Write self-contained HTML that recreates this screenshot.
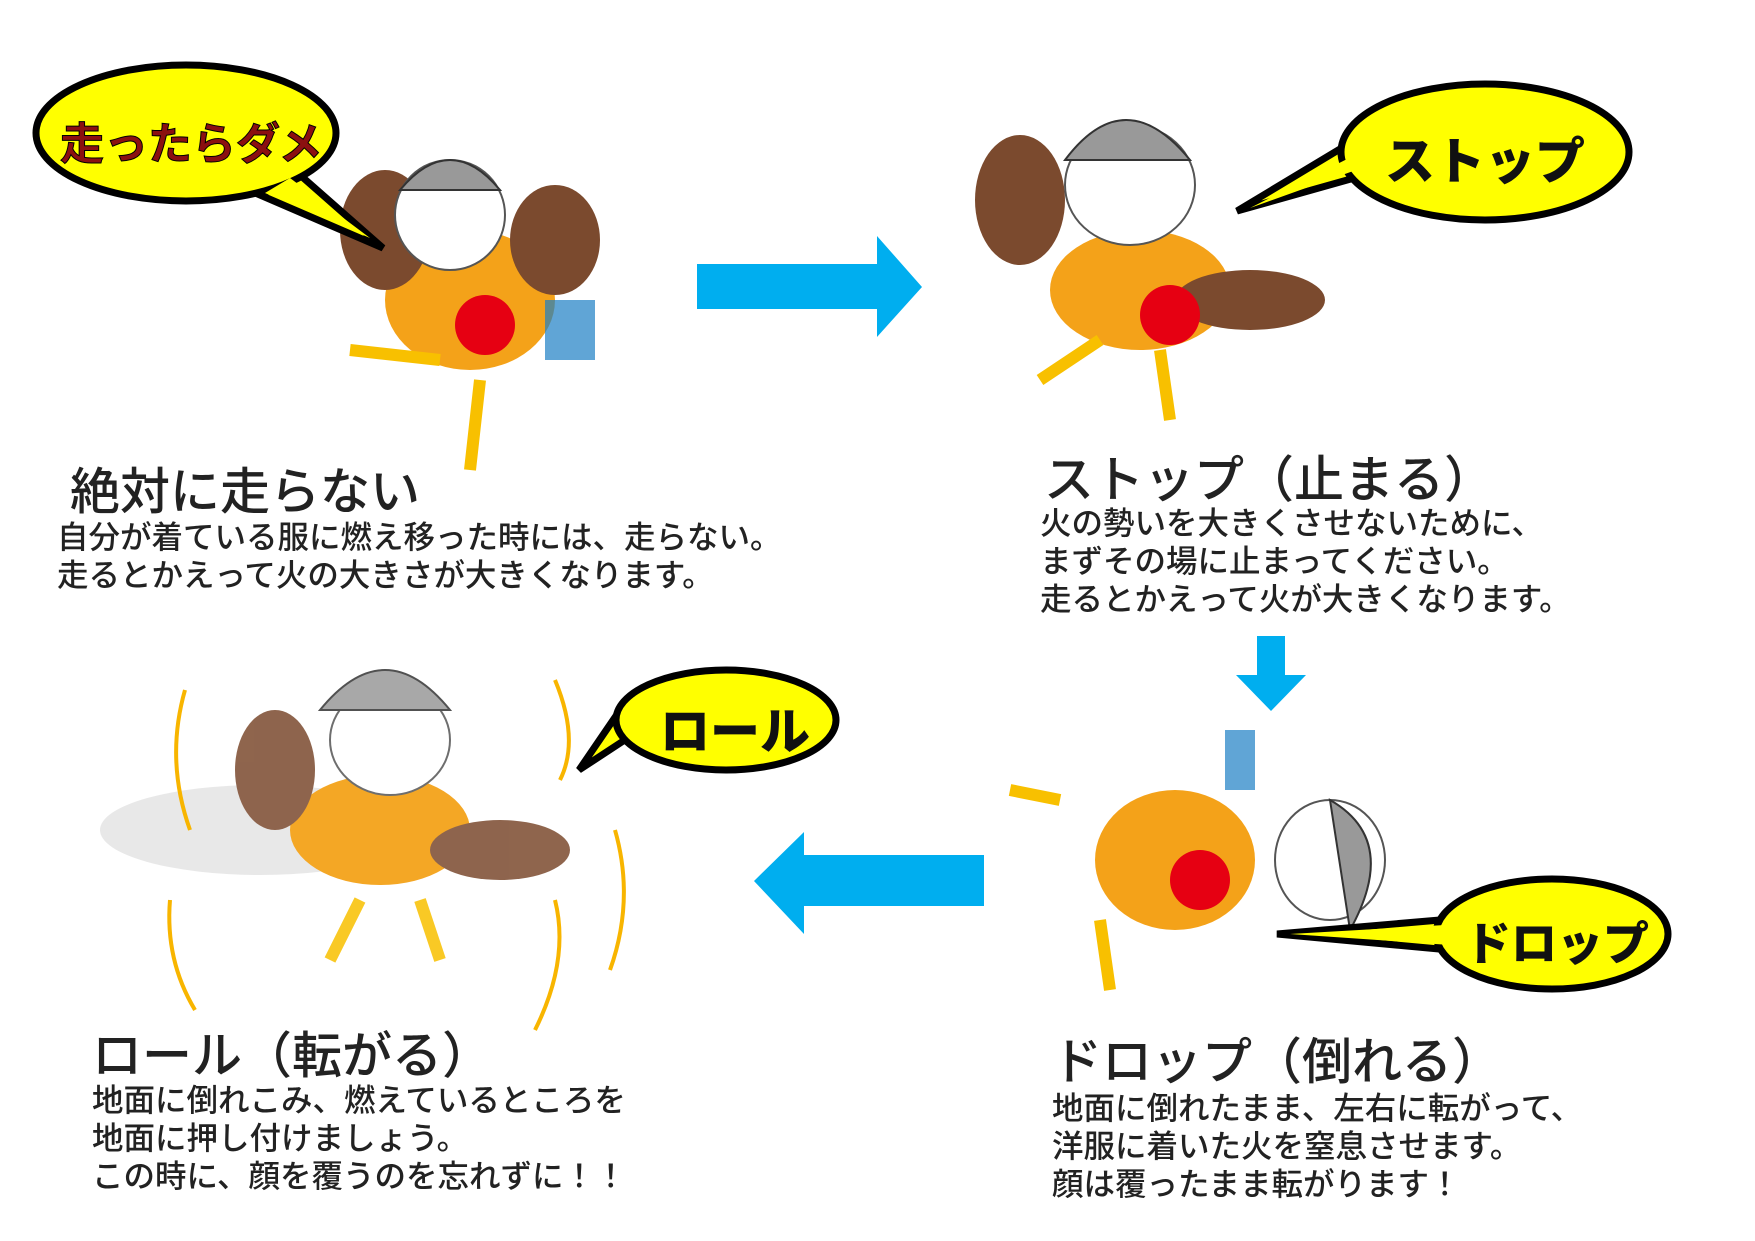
<!DOCTYPE html>
<html><head><meta charset="utf-8"><style>
body{margin:0;width:1755px;height:1241px;background:#fff;overflow:hidden;position:relative;font-family:"Liberation Sans","Noto Sans CJK JP",sans-serif;}
.t{position:absolute;color:#222;white-space:nowrap;}
.h{font-size:50px;font-weight:500;}
.b{font-size:31.5px;line-height:38px;font-weight:500;}
</style></head><body>
<svg width="1755" height="1241" style="position:absolute;left:0;top:0">
<g fill="#00aeef">
<polygon points="697,264 877,264 877,236 922,287 877,337 877,309 697,309"/>
<polygon points="1257,636 1285,636 1285,675 1306,675 1271,711 1236,675 1257,675"/>
<polygon points="984,855 804,855 804,832 754,881 804,934 804,906 984,906"/>
</g>
<g>
<ellipse cx="470" cy="300" rx="85" ry="70" fill="#f39800" opacity=".9"/>
<ellipse cx="385" cy="230" rx="45" ry="60" fill="#7b4a2e"/>
<ellipse cx="555" cy="240" rx="45" ry="55" fill="#7b4a2e"/>
<ellipse cx="450" cy="215" rx="55" ry="55" fill="#fff" stroke="#555" stroke-width="2"/>
<path d="M400 190 Q450 130 500 190 Z" fill="#999" stroke="#333" stroke-width="2"/>
<ellipse cx="485" cy="325" rx="30" ry="30" fill="#e60012"/>
<path d="M480 380 L470 470 M440 360 L350 350" stroke="#f8c000" stroke-width="12"/>
<rect x="545" y="300" width="50" height="60" fill="#1d7fc4" opacity=".7"/>
</g>
<g>
<ellipse cx="1140" cy="290" rx="90" ry="60" fill="#f39800" opacity=".9"/>
<ellipse cx="1020" cy="200" rx="45" ry="65" fill="#7b4a2e"/>
<ellipse cx="1250" cy="300" rx="75" ry="30" fill="#7b4a2e"/>
<ellipse cx="1130" cy="185" rx="65" ry="60" fill="#fff" stroke="#555" stroke-width="2"/>
<path d="M1065 160 Q1125 80 1190 160 Z" fill="#999" stroke="#333" stroke-width="2"/>
<ellipse cx="1170" cy="315" rx="30" ry="30" fill="#e60012"/>
<path d="M1100 340 L1040 380 M1160 350 L1170 420" stroke="#f8c000" stroke-width="12"/>
</g>
<g>
<ellipse cx="1175" cy="860" rx="80" ry="70" fill="#f39800" opacity=".9"/>
<ellipse cx="1330" cy="860" rx="55" ry="60" fill="#fff" stroke="#555" stroke-width="2"/>
<path d="M1330 800 Q1400 840 1350 930 Z" fill="#999" stroke="#333" stroke-width="2"/>
<ellipse cx="1200" cy="880" rx="30" ry="30" fill="#e60012"/>
<path d="M1060 800 L1010 790 M1100 920 L1110 990" stroke="#f8c000" stroke-width="12"/>
<rect x="1225" y="730" width="30" height="60" fill="#1d7fc4" opacity=".7"/>
</g>
<g opacity=".85">
<ellipse cx="260" cy="830" rx="160" ry="45" fill="#bbb" opacity=".4"/>
<ellipse cx="380" cy="830" rx="90" ry="55" fill="#f39800"/>
<ellipse cx="275" cy="770" rx="40" ry="60" fill="#7b4a2e"/>
<ellipse cx="500" cy="850" rx="70" ry="30" fill="#7b4a2e"/>
<ellipse cx="390" cy="740" rx="60" ry="55" fill="#fff" stroke="#555" stroke-width="2"/>
<path d="M320 710 Q385 630 450 710 Z" fill="#999" stroke="#333" stroke-width="2"/>
<path d="M360 900 L330 960 M420 900 L440 960" stroke="#f8c000" stroke-width="12"/>
</g>
<g fill="none" stroke="#f8b500" stroke-width="4">
<path d="M185 690 Q165 760 190 830"/><path d="M555 680 Q580 740 560 780"/>
<path d="M170 900 Q165 960 195 1010"/><path d="M615 830 Q635 900 610 970"/>
<path d="M555 900 Q570 960 535 1030"/>
</g>
<g fill="#ffff00" stroke="#000" stroke-width="7">
<path d="M300 175 L383 248 L260 195 Z"/>
<ellipse cx="186" cy="133" rx="150" ry="68"/>
<path d="M1365 175 L1237 211 L1355 140 Z"/>
<ellipse cx="1485" cy="152" rx="144" ry="68"/>
<path d="M640 730 L579 770 L620 710 Z"/>
<ellipse cx="726" cy="720" rx="110" ry="50"/>
<path d="M1440 920 L1277 934 L1450 950 Z"/>
<ellipse cx="1552" cy="934" rx="116" ry="55"/>
</g>
<g fill="#ffff00"><path d="M290 178 L370 238 L265 193 Z"/><path d="M1370 165 L1250 208 L1365 150 Z"/><path d="M1445 925 L1290 934 L1450 945Z"/></g>
</svg>
<div class="t" style="left:60px;top:108px;font-size:44px;font-weight:700;color:#8b1010;-webkit-text-stroke:1px #000">走ったらダメ</div>
<div class="t" style="left:1385px;top:122px;font-size:50px;font-weight:900;color:#111">ストップ</div>
<div class="t" style="left:660px;top:692px;font-size:50px;font-weight:900;color:#111">ロール</div>
<div class="t" style="left:1465px;top:908px;font-size:46px;font-weight:900;color:#111">ドロップ</div>

<div class="t h" style="left:70px;top:452px">絶対に走らない</div>
<div class="t b" style="left:57px;top:518px">自分が着ている服に燃え移った時には、走らない。<br>走るとかえって火の大きさが大きくなります。</div>
<div class="t h" style="left:1044px;top:440px">ストップ（止まる）</div>
<div class="t b" style="left:1040px;top:504px">火の勢いを大きくさせないために、<br>まずその場に止まってください。<br>走るとかえって火が大きくなります。</div>
<div class="t h" style="left:92px;top:1016px">ロール（転がる）</div>
<div class="t b" style="left:92px;top:1081px">地面に倒れこみ、燃えているところを<br>地面に押し付けましょう。<br>この時に、顔を覆うのを忘れずに！！</div>
<div class="t h" style="left:1052px;top:1022px">ドロップ（倒れる）</div>
<div class="t b" style="left:1052px;top:1089px">地面に倒れたまま、左右に転がって、<br>洋服に着いた火を窒息させます。<br>顔は覆ったまま転がります！</div>
</body></html>
